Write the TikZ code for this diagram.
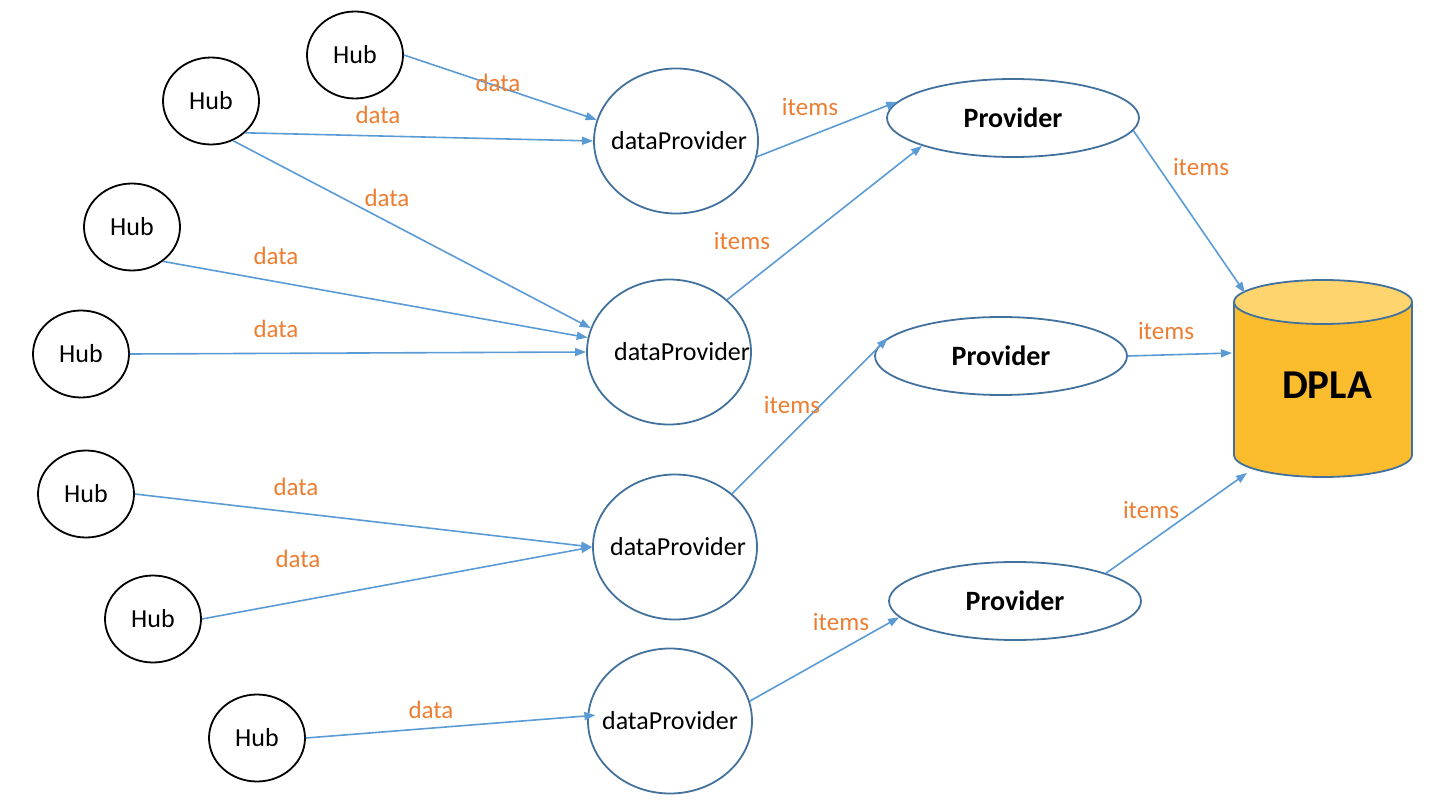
\documentclass[tikz,border=0pt]{standalone}
\usepackage{fontspec}
\setmainfont{Carlito}
\usetikzlibrary{shapes.geometric,arrows.meta}
\definecolor{arrowblue}{HTML}{5B9BD5}
\definecolor{borderblue}{HTML}{41719C}
\definecolor{lblorange}{HTML}{ED7D31}
\definecolor{cylbody}{HTML}{FBBC2E}
\definecolor{cyltop}{HTML}{FDD46E}
\tikzset{
  hub/.style={ellipse, draw=black, line width=1.8pt, inner sep=0pt, minimum width=96pt, minimum height=87pt, font=\fontsize{26}{30}\selectfont},
  dprov/.style={ellipse, draw=borderblue, line width=1.8pt, inner sep=0pt, minimum width=164pt, minimum height=145pt, font=\fontsize{26}{30}\selectfont},
  prov/.style={ellipse, draw=borderblue, line width=1.8pt, inner sep=0pt, minimum width=252pt, minimum height=78pt, font=\bfseries\fontsize{28}{32}\selectfont},
  conn/.style={draw=arrowblue, line width=1.6pt, -{Triangle[length=11pt,width=8pt]}},
  lbl/.style={text=lblorange, inner sep=0pt, font=\fontsize{25}{29}\selectfont}
}
\begin{document}
\begin{tikzpicture}[x=1pt,y=-1pt]
\useasboundingbox (0,0) rectangle (1434,810);
% Hubs
\node[hub] (H1) at (355,55) {Hub};
\node[hub] (H2) at (211,101) {Hub};
\node[hub] (H3) at (132,227) {Hub};
\node[hub] (H4) at (81,354) {Hub};
\node[hub] (H5) at (86,494) {Hub};
\node[hub] (H6) at (153,619) {Hub};
\node[hub] (H7) at (257,738) {Hub};
% dataProviders
\node[dprov] (D1) at (676,141) {\makebox[0pt]{\hspace{6pt}dataProvider}};
\node[dprov] (D2) at (669,352) {\makebox[0pt]{\hspace{26pt}dataProvider}};
\node[dprov] (D3) at (675,547) {\makebox[0pt]{\hspace{6pt}dataProvider}};
\node[dprov] (D4) at (670,721) {\makebox[0pt]{dataProvider}};
% Providers
\node[prov] (P1) at (1013,118) {Provider};
\node[prov] (P2) at (1001,356) {Provider};
\node[prov] (P3) at (1015,601) {Provider};
% DPLA cylinder
\fill[cylbody] (1234,302) -- (1234,455) arc[start angle=180, end angle=360, x radius=89pt, y radius=22pt] -- (1412,302) -- cycle;
\draw[borderblue, line width=1.8pt] (1234,302) -- (1234,455) arc[start angle=180, end angle=360, x radius=89pt, y radius=22pt] -- (1412,302);
\draw[borderblue, line width=1.8pt, fill=cyltop] (1323,302) ellipse [x radius=89pt, y radius=22pt];
\node[inner sep=0pt, font=\bfseries\fontsize{41}{46}\selectfont] (DPLA) at (1327,385) {DPLA};
\coordinate (dA) at (1245,293);
\coordinate (dB) at (1232,353);
\coordinate (dC) at (1247,473);
% connectors
\draw[conn] (H1.east) -- (D1.165);
\draw[conn] (H2.-43) -- (D1.west);
\draw[conn] (H2.-61) -- (D2.163);
\draw[conn] (H3.-48) -- (D2.170);
\draw[conn] (H4.east) -- (D2.west);
\draw[conn] (H5.east) -- (D3.west);
\draw[conn] (H6.east) -- (D3.west);
\draw[conn] (H7.east) -- ([xshift=8pt]D4.176);
\draw[conn] (D1.-11) -- (P1.172);
\draw[conn] (D2.42) -- (P1.197);
\draw[conn] (D3.43) -- (P2.171);
\draw[conn] (D4.14) -- (P3.188);
\draw[conn] (P1.-6) -- (dA);
\draw[conn] (P2.east) -- (dB);
\draw[conn] (P3.17) -- (dC);
% labels
\node[lbl] (L1) at (498,83) {data};
\node[lbl] (L2) at (378,115) {data};
\node[lbl] (L3) at (387,198) {data};
\node[lbl] (L4) at (276,256) {data};
\node[lbl] (L5) at (276,329) {data};
\node[lbl] (L6) at (296,487) {data};
\node[lbl] (L7) at (298,559) {data};
\node[lbl] (L8) at (431,710) {data};
\node[lbl] (L9) at (810,107) {items};
\node[lbl] (L10) at (742,241) {items};
\node[lbl] (L11) at (792,405) {items};
\node[lbl] (L12) at (841,622) {items};
\node[lbl] (L13) at (1201,167) {items};
\node[lbl] (L14) at (1166,331) {items};
\node[lbl] (L15) at (1151,510) {items};
\end{tikzpicture}
\end{document}
